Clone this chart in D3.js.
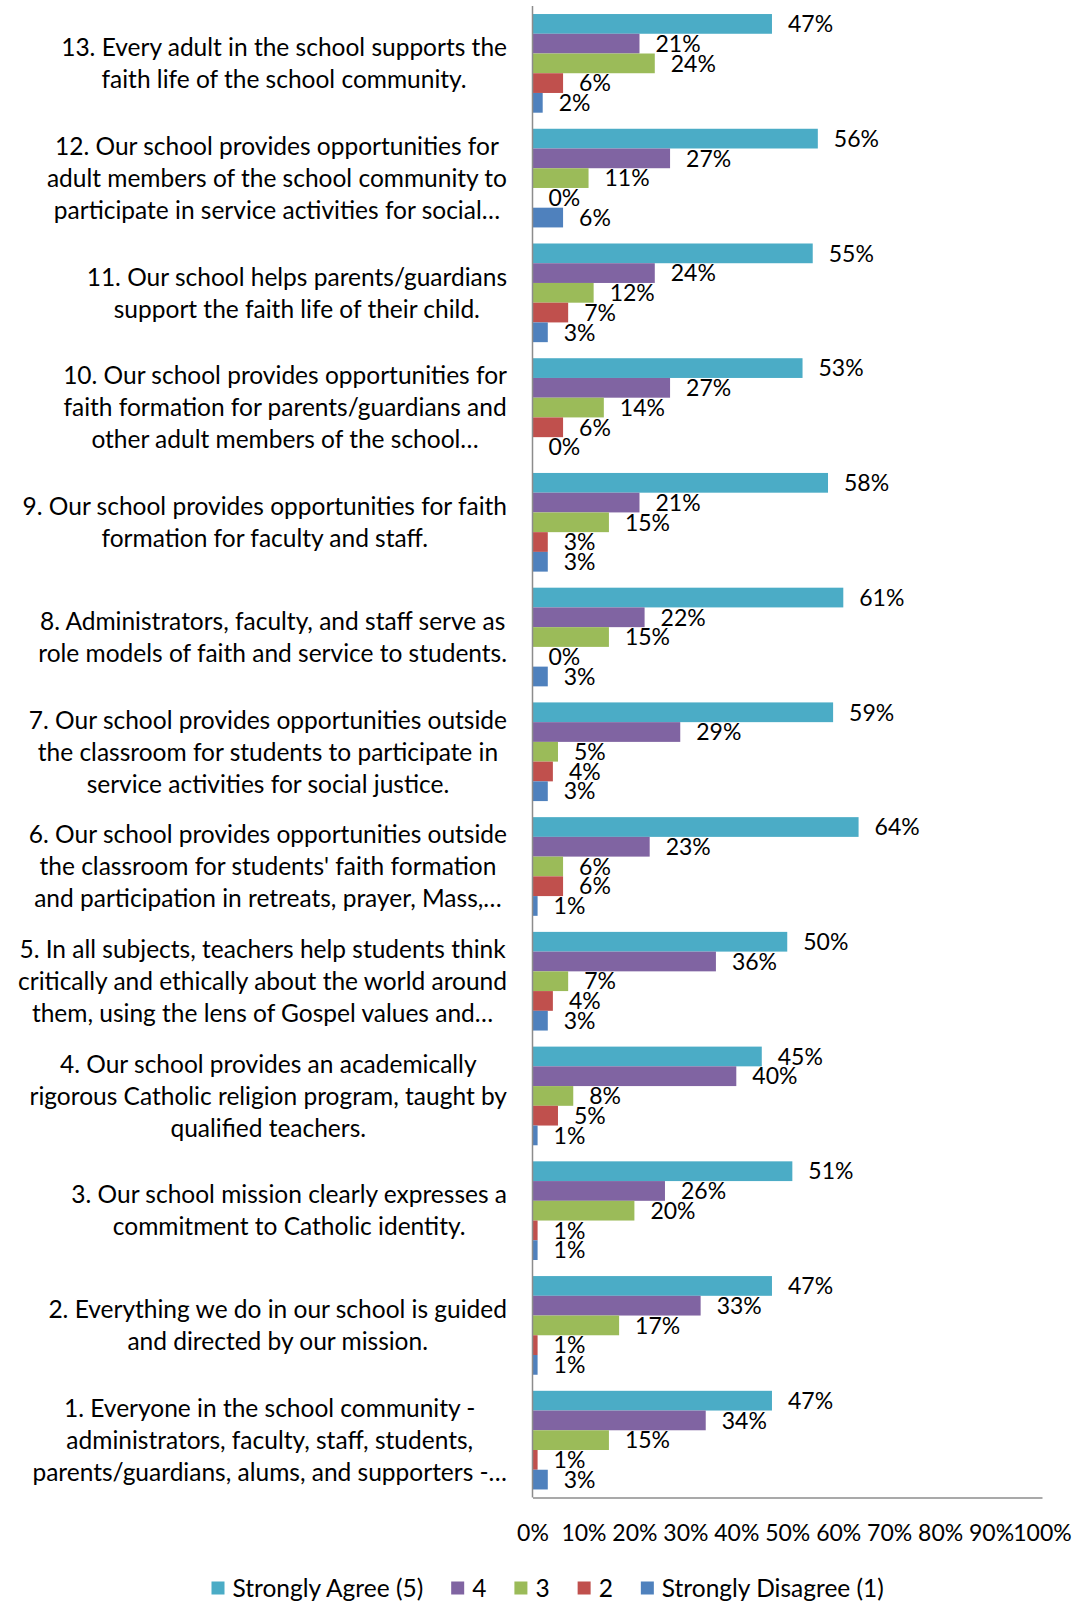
<!DOCTYPE html>
<html>
<head>
<meta charset="utf-8">
<script src="https://cdn.jsdelivr.net/npm/d3@7"></script>
<style>
  html, body { margin: 0; padding: 0; background: #fff; }
  svg { display: block; }
  text { font-family: Lato, "Open Sans", sans-serif; fill: #000; }
</style>
</head>
<body>
<svg id="chart" width="1077" height="1602"></svg>
<script>
// ---- Data ----
const categories = ["13","12","11","10","9","8","7","6","5","4","3","2","1"];
const categoryLabels = [
  ["13. Every adult in the school supports the", "faith life of the school community."],
  ["12. Our school provides opportunities for", "adult members of the school community to", "participate in service activities for social…"],
  ["11. Our school helps parents/guardians", "support the faith life of their child."],
  ["10. Our school provides opportunities for", "faith formation for parents/guardians and", "other adult members of the school…"],
  ["9. Our school provides opportunities for faith", "formation for faculty and staff."],
  ["8. Administrators, faculty, and staff serve as", "role models of faith and service to students."],
  ["7. Our school provides opportunities outside", "the classroom for students to participate in", "service activities for social justice."],
  ["6. Our school provides opportunities outside", "the classroom for students' faith formation", "and participation in retreats, prayer, Mass,…"],
  ["5. In all subjects, teachers help students think", "critically and ethically about the world around", "them, using the lens of Gospel values and…"],
  ["4. Our school provides an academically", "rigorous Catholic religion program, taught by", "qualified teachers."],
  ["3. Our school mission clearly expresses a", "commitment to Catholic identity."],
  ["2. Everything we do in our school is guided", "and directed by our mission."],
  ["1. Everyone in the school community -", "administrators, faculty, staff, students,", "parents/guardians, alums, and supporters -…"]
];
const seriesNames = ["Strongly Agree (5)", "4", "3", "2", "Strongly Disagree (1)"];
const seriesColors = ["#4BACC6", "#8064A2", "#9BBB59", "#C0504D", "#4F81BD"];
const stronglyAgree    = [47, 56, 55, 53, 58, 61, 59, 64, 50, 45, 51, 47, 47];
const agree4           = [21, 27, 24, 27, 21, 22, 29, 23, 36, 40, 26, 33, 34];
const neutral3         = [24, 11, 12, 14, 15, 15,  5,  6,  7,  8, 20, 17, 15];
const disagree2        = [ 6,  0,  7,  6,  3,  0,  4,  6,  4,  5,  1,  1,  1];
const stronglyDisagree = [ 2,  6,  3,  0,  3,  3,  3,  1,  3,  1,  1,  1,  3];
const tickValues = [0,10,20,30,40,50,60,70,80,90,100];

const seriesValues = [stronglyAgree, agree4, neutral3, disagree2, stronglyDisagree];

// ---- Layout ----
const svg = d3.select("#chart");
const plotLeft = 532.5, plotRight = 1042, plotTop = 6, plotBottom = 1497.5;
const labelRight = 507;
const fontCat = 24.5, fontVal = 23, fontLegend = 24.5;

const x = d3.scaleLinear().domain([0, 100]).range([plotLeft, plotRight]);
const y = d3.scaleBand().domain(categories).range([plotTop, plotBottom])
  .paddingInner(0.14).paddingOuter(0.07);
const ySub = d3.scaleBand().domain(d3.range(seriesNames.length)).range([0, y.bandwidth()]);

// bars
const groups = svg.append("g").selectAll("g")
  .data(categories).join("g")
  .attr("transform", c => `translate(0,${y(c)})`);

groups.each(function(c, ci) {
  const g = d3.select(this);
  seriesValues.forEach((vals, si) => {
    const v = vals[ci];
    g.append("rect")
      .attr("x", x(0))
      .attr("y", ySub(si))
      .attr("width", Math.max(0, x(v) - x(0)))
      .attr("height", ySub.bandwidth())
      .attr("fill", seriesColors[si]);
    g.append("text")
      .attr("x", x(v) + 16)
      .attr("y", ySub(si) + ySub.bandwidth() / 2)
      .attr("dy", "0.36em")
      .style("font-size", fontVal + "px")
      .text(v + "%");
  });
});

// axes lines
svg.append("line").attr("x1", plotLeft).attr("x2", plotLeft)
  .attr("y1", plotTop).attr("y2", plotBottom)
  .attr("stroke", "#8c8c8c").attr("stroke-width", 1.5);
const xAxis = d3.axisBottom(x).tickValues(tickValues).tickFormat(d => d + "%").tickSize(0).tickPadding(0);
const xg = svg.append("g").attr("transform", `translate(0,${plotBottom})`).call(xAxis);
xg.select(".domain").attr("stroke", "#8c8c8c").attr("stroke-width", 1.5);
xg.selectAll("text").attr("y", 35).attr("dy", "0.36em")
  .style("font-size", fontVal + "px").style("font-family", "Lato, 'Open Sans', sans-serif").attr("fill", "#000");

// category labels
const lineH = 32;
categories.forEach((c, ci) => {
  const lines = categoryLabels[ci];
  const cy = y(c) + y.bandwidth() / 2;
  const g = svg.append("g");
  const texts = lines.map((ln, li) => g.append("text")
    .attr("y", cy + (li - (lines.length - 1) / 2) * lineH)
    .attr("dy", "0.36em")
    .attr("text-anchor", "middle")
    .style("font-size", fontCat + "px")
    .text(ln));
  const maxW = d3.max(texts, t => t.node().getComputedTextLength());
  texts.forEach(t => t.attr("x", labelRight - maxW / 2));
});

// legend
const legend = svg.append("g");
let lx = 211.5;
const ly = 1588;
seriesNames.forEach((name, i) => {
  legend.append("rect").attr("x", lx).attr("y", ly - 6.5).attr("width", 13).attr("height", 13)
    .attr("fill", seriesColors[i]);
  const t = legend.append("text").attr("x", lx + 21).attr("y", ly).attr("dy", "0.36em")
    .style("font-size", fontLegend + "px").text(name);
  lx += 21 + t.node().getComputedTextLength() + 28;
});
</script>
</body>
</html>
